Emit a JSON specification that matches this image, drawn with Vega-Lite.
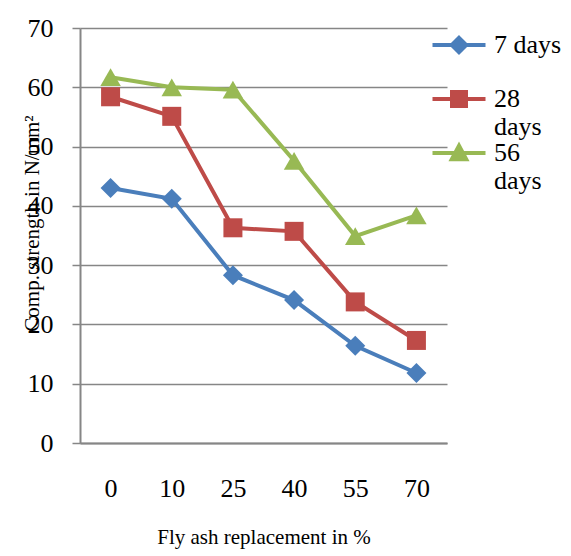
{
  "$schema": "https://vega.github.io/schema/vega-lite/v6.json",
  "width": 367,
  "height": 415,
  "autosize": "none",
  "padding": {"left": 80, "top": 28, "right": 124, "bottom": 113},
  "background": "white",
  "config": {
    "font": "Liberation Serif",
    "view": {"stroke": null},
    "legend": {"labelFont": "Liberation Serif"}
  },
  "data": {
    "values": [
      {"pct": 0, "series": "7 days", "strength": 43.0},
      {"pct": 10, "series": "7 days", "strength": 41.2},
      {"pct": 25, "series": "7 days", "strength": 28.3},
      {"pct": 40, "series": "7 days", "strength": 24.1},
      {"pct": 55, "series": "7 days", "strength": 16.4},
      {"pct": 70, "series": "7 days", "strength": 11.8},
      {"pct": 0, "series": "28 days", "strength": 58.4},
      {"pct": 10, "series": "28 days", "strength": 55.1},
      {"pct": 25, "series": "28 days", "strength": 36.3},
      {"pct": 40, "series": "28 days", "strength": 35.7},
      {"pct": 55, "series": "28 days", "strength": 23.8},
      {"pct": 70, "series": "28 days", "strength": 17.3},
      {"pct": 0, "series": "56 days", "strength": 61.7},
      {"pct": 10, "series": "56 days", "strength": 60.0},
      {"pct": 25, "series": "56 days", "strength": 59.6},
      {"pct": 40, "series": "56 days", "strength": 47.6},
      {"pct": 55, "series": "56 days", "strength": 34.9},
      {"pct": 70, "series": "56 days", "strength": 38.4}
    ]
  },
  "encoding": {
    "x": {
      "field": "pct",
      "type": "ordinal",
      "scale": {"padding": 0.5},
      "axis": {
        "title": "Fly ash replacement in %",
        "titleFontSize": 21,
        "titleFontWeight": "normal",
        "titleColor": "#000000",
        "titleBaseline": "alphabetic",
        "titleY": 100,
        "labelAngle": 0,
        "labelFontSize": 26,
        "labelColor": "#000000",
        "labelPadding": 32,
        "ticks": false,
        "tickSize": 0,
        "domainColor": "#868686",
        "domainWidth": 2,
        "grid": false
      }
    },
    "y": {
      "field": "strength",
      "type": "quantitative",
      "scale": {"domain": [0, 70], "nice": false},
      "axis": {
        "title": "Comp. strength in N/mm²",
        "titleFontSize": 21,
        "titleFontWeight": "normal",
        "titleColor": "#000000",
        "titleX": -48,
        "titleY": 195,
        "titleAngle": -90,
        "titleAlign": "center",
        "titleBaseline": "middle",
        "values": [0, 10, 20, 30, 40, 50, 60, 70],
        "labelFontSize": 26,
        "labelColor": "#000000",
        "labelPadding": 19,
        "tickSize": 8,
        "tickColor": "#868686",
        "tickWidth": 1.5,
        "domainColor": "#868686",
        "domainWidth": 2,
        "grid": true,
        "gridColor": "#868686",
        "gridWidth": 1.5
      }
    }
  },
  "layer": [
    {
      "mark": {"type": "line", "strokeWidth": 4},
      "encoding": {
        "color": {
          "field": "series",
          "type": "nominal",
          "scale": {"domain": ["7 days", "28 days", "56 days"], "range": ["#4A7EBB", "#BE4B48", "#98B954"]}
        }
      }
    },
    {
      "transform": [{"filter": "datum.series == '7 days'"}],
      "mark": {"type": "point", "filled": true, "opacity": 1, "shape": "diamond", "size": 400},
      "encoding": {"color": {"field": "series", "type": "nominal"}}
    },
    {
      "transform": [{"filter": "datum.series == '28 days'"}],
      "mark": {"type": "point", "filled": true, "opacity": 1, "shape": "square", "size": 361},
      "encoding": {"color": {"field": "series", "type": "nominal"}}
    },
    {
      "transform": [{"filter": "datum.series == '56 days'"}],
      "mark": {"type": "point", "filled": true, "opacity": 1, "shape": "triangle-up", "size": 420},
      "encoding": {"color": {"field": "series", "type": "nominal"}}
    },
    {
      "transform": [{"filter": "false"}],
      "mark": {"type": "point", "filled": true, "opacity": 1, "size": 400, "strokeWidth": 4},
      "encoding": {
        "color": {
          "field": "series",
          "type": "nominal",
          "legend": {
            "title": null,
            "orient": "none",
            "legendX": 366,
            "legendY": 4,
            "padding": 0,
            "symbolSize": 400,
            "symbolStrokeWidth": 4,
            "symbolOpacity": 1,
            "labelFont": "Liberation Serif",
            "labelFontSize": 26,
            "labelColor": "#000000",
            "labelOffset": 22,
            "labelBaseline": "middle",
            "labelExpr": "datum.label == '7 days' ? datum.label : split(datum.label, ' ')",
            "gridAlign": "all",
            "rowPadding": -4.5
          }
        },
        "stroke": {
          "field": "series",
          "type": "nominal",
          "scale": {"domain": ["7 days", "28 days", "56 days"], "range": ["#4A7EBB", "#BE4B48", "#98B954"]}
        },
        "shape": {
          "field": "series",
          "type": "nominal",
          "scale": {
            "domain": ["7 days", "28 days", "56 days"],
            "range": [
              "M-2.65,0H2.65M0,-0.72L0.72,0L0,0.72L-0.72,0Z",
              "M-2.65,0H2.65M-0.7,-0.7H0.7V0.7H-0.7Z",
              "M-2.65,0H2.65M0,-0.72L0.72,0.62L-0.72,0.62Z"
            ]
          }
        }
      }
    }
  ]
}
